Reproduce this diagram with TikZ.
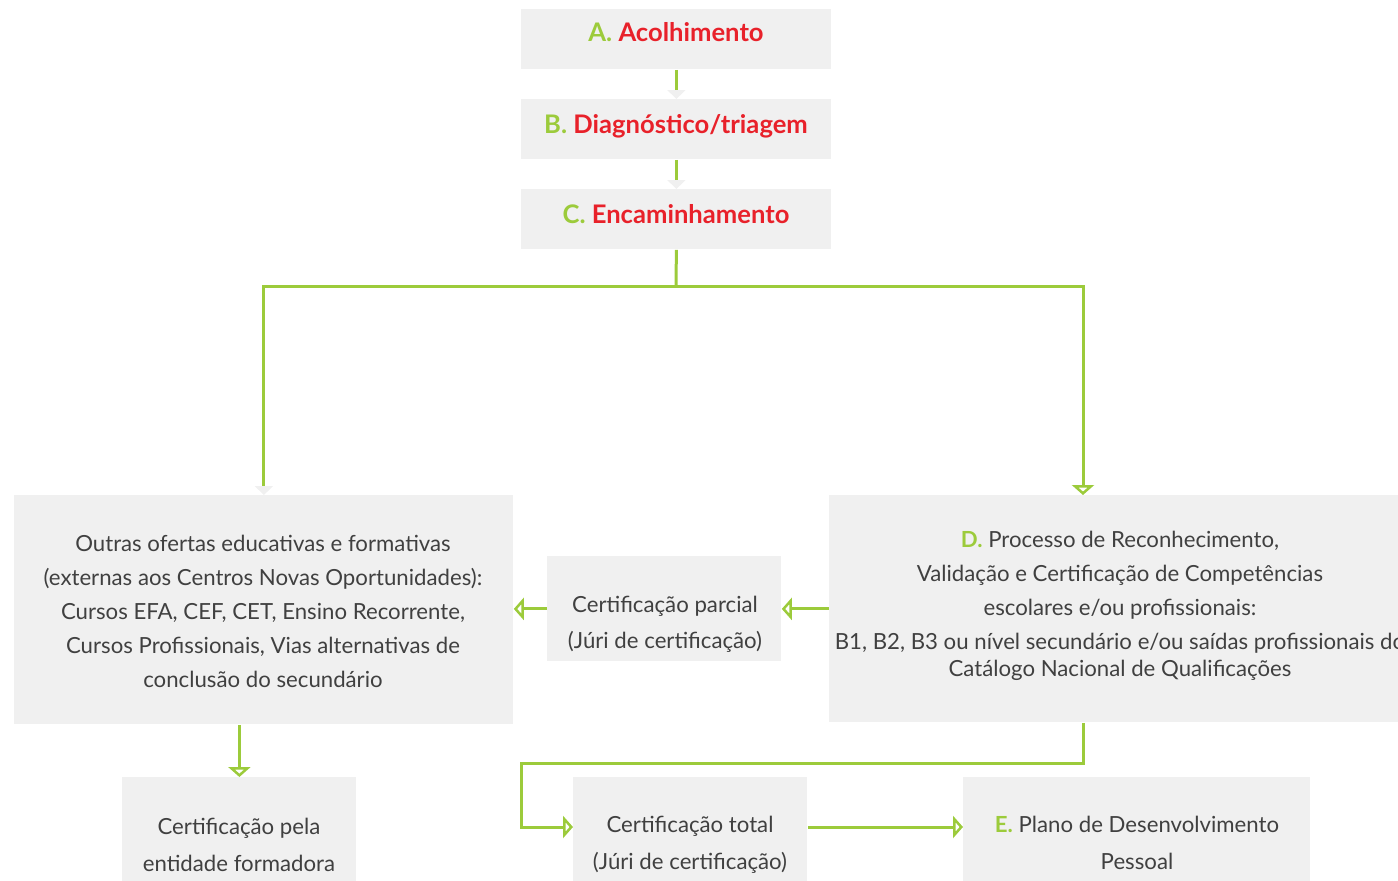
\documentclass[tikz,border=0pt]{standalone}
\usepackage{fontspec}
\setmainfont{Lato}
\usetikzlibrary{arrows.meta}
\definecolor{boxgray}{HTML}{F0F0F0}
\definecolor{lime}{HTML}{9CCB3B}
\definecolor{ttl}{HTML}{E8212A}
\definecolor{txt}{HTML}{404040}
\newcommand{\lett}[1]{\textcolor{lime}{\textbf{#1}}}
\begin{document}
\begin{tikzpicture}[x=0.5pt,y=-0.5pt,
  box/.style={fill=boxgray, draw=none, inner sep=0pt, anchor=north west},
  lbl/.style={text=txt, font=\fontsize{11.1}{17}\selectfont, align=center, inner sep=0pt},
  lbltwo/.style={lbl, font=\fontsize{11.1}{18.5}\selectfont},
  head/.style={text=ttl, font=\fontsize{12.8}{14}\selectfont\bfseries, inner sep=0pt},
  conn/.style={draw=lime, line width=1.5pt},
  opentip/.style={-{Triangle[open, length=5pt, width=11pt, line width=1.4pt]}},
  graytip/.style={-{Triangle[length=4.5pt, width=9pt, fill=boxgray, color=boxgray]}}
]
\useasboundingbox (0,0) rectangle (1398,880);
\clip (0,0) rectangle (1398,880);

% boxes
\node[box, minimum width=155pt, minimum height=30pt] (A) at (521,9) {};
\node[box, minimum width=155pt, minimum height=30pt] (B) at (521,99) {};
\node[box, minimum width=155pt, minimum height=30pt] (C) at (521,189) {};
\node[box, minimum width=249.5pt, minimum height=114.5pt] (O) at (14,495) {};
\node[box, minimum width=117pt, minimum height=52.5pt] (P) at (547,556) {};
\node[box, minimum width=300pt, minimum height=113.5pt] (D) at (829,495) {};
\node[box, minimum width=117pt, minimum height=60pt] (F) at (122,777) {};
\node[box, minimum width=117pt, minimum height=60pt] (T) at (573,777) {};
\node[box, minimum width=173.5pt, minimum height=60pt] (E) at (963,777) {};

% texts
\node[head] (tA) at (676,32) {\lett{A.} Acolhimento};
\node[head] (tB) at (676,126) {\lett{B.} Diagnóstico/triagem};
\node[head] (tC) at (676,214) {\lett{C.} Encaminhamento};
\node[lbl] (tO) at (263,611) {Outras ofertas educativas e formativas\\
  (externas aos Centros Novas Oportunidades):\\
  Cursos EFA, CEF, CET, Ensino Recorrente,\\
  Cursos Profissionais, Vias alternativas de\\
  conclusão do secundário};
\node[lbl, font=\fontsize{11.1}{18}\selectfont] (tP) at (665,624) {Certificação parcial\\(Júri de certificação)};
\node[lbl] (tD) at (1120,606) {\lett{D.} Processo de Reconhecimento,\\
  Validação e Certificação de Competências\\
  escolares e/ou profissionais:\\
  B1, B2, B3 ou nível secundário e/ou saídas profissionais do\\[-3.5pt]
  Catálogo Nacional de Qualificações};
\node[lbltwo] (tF) at (239,845) {Certificação pela\\entidade formadora};
\node[lbltwo] (tT) at (690,845) {Certificação total\\(Júri de certificação)};
\node[lbltwo] (tE) at (1137,843) {\lett{E.} Plano de Desenvolvimento\\Pessoal};

% junction points
\coordinate (cj) at (676,286);
\coordinate (dtop) at (1083,495);
\coordinate (db1) at (1083,763);
\coordinate (db2) at (521,763);
\coordinate (db3) at (521,827);

% connectors
\draw[conn, graytip] (A.south) -- (B.north);
\draw[conn, graytip] (B.south) -- (C.north);
\draw[conn] (C.south) -- (cj);
\draw[conn, graytip] (cj) -| (O.north);
\draw[conn, opentip] (cj) -| (dtop);
\draw[conn, opentip] (D.west) -- (P.east);
\draw[conn, opentip] (P.west) -- (P.west -| O.east);
\draw[conn, opentip] (F.north |- O.south) -- (F.north);
\draw[conn, opentip] (dtop |- D.south) -- (db1) -- (db2) -- (db3) -- (db3 -| T.west);
\draw[conn, opentip] (T.east |- db3) -- (E.west |- db3);
\end{tikzpicture}
\end{document}
